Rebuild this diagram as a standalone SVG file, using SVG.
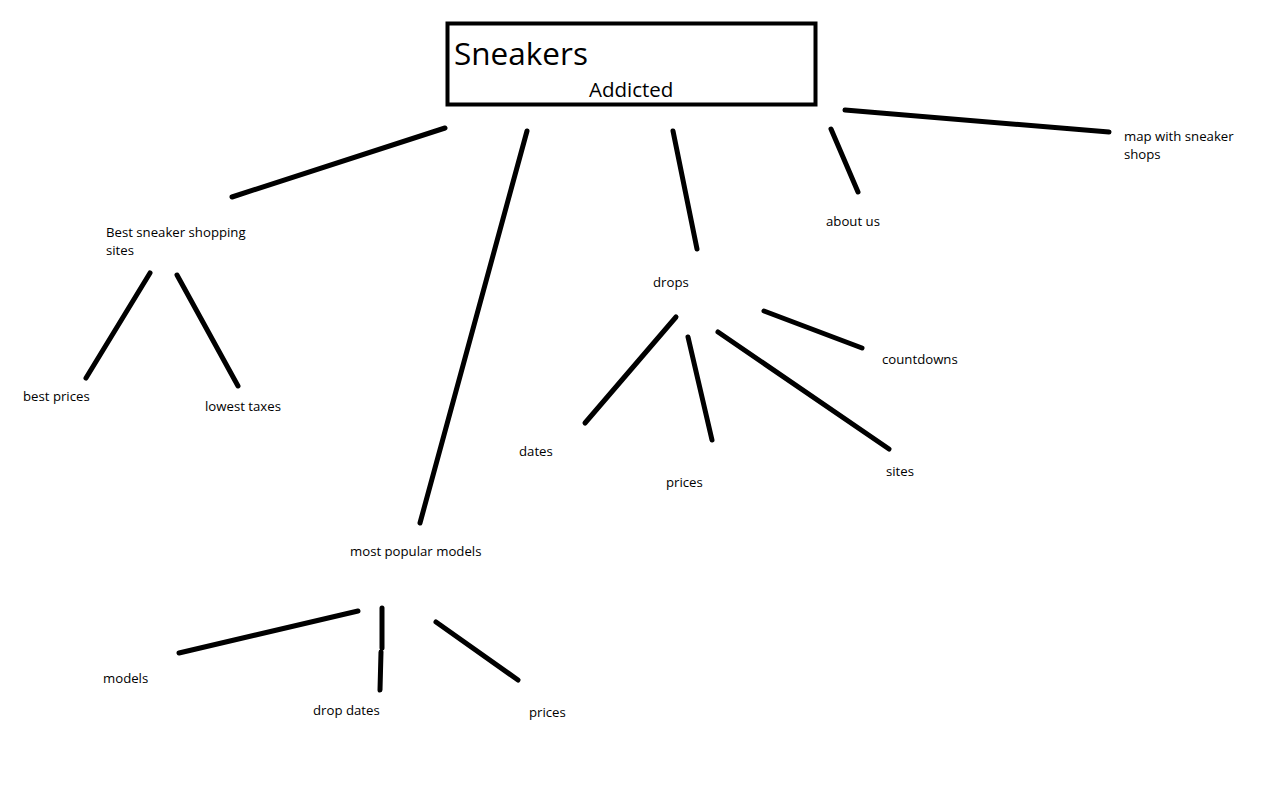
<svg xmlns="http://www.w3.org/2000/svg" width="1266" height="785" viewBox="0 0 1266 785">
<style>
.t{font-family:"Open Sans","DejaVu Sans",sans-serif;font-size:13.2px;fill:#000}
.c line{stroke:#000;stroke-width:5;stroke-linecap:round}
</style>
<rect width="1266" height="785" fill="#fff"/>
<g id="root">
<rect x="447.5" y="23.5" width="368" height="81" fill="#fff" stroke="#000" stroke-width="4"/>
<text x="454" y="65" font-family="Open Sans, DejaVu Sans, sans-serif" font-size="31.5">Sneakers</text>
<text x="589" y="97" font-family="Open Sans, DejaVu Sans, sans-serif" font-size="20.5">Addicted</text>
</g>
<g class="c" id="connectors">
<line x1="445" y1="128" x2="232" y2="197"/>
<line x1="527" y1="131" x2="420" y2="523"/>
<line x1="673" y1="131" x2="697" y2="249"/>
<line x1="831" y1="129" x2="858" y2="192"/>
<line x1="845" y1="110" x2="1109" y2="132"/>
<line x1="150" y1="273" x2="86" y2="378"/>
<line x1="177" y1="275" x2="238" y2="386"/>
<line x1="676" y1="317" x2="585" y2="423"/>
<line x1="688" y1="337" x2="712" y2="440"/>
<line x1="718" y1="332" x2="889" y2="449"/>
<line x1="764" y1="311" x2="862" y2="348"/>
<line x1="358" y1="611" x2="179" y2="653"/>
<line x1="382" y1="608" x2="382" y2="648"/>
<line x1="381" y1="652" x2="380" y2="690"/>
<line x1="436" y1="622" x2="518" y2="680"/>
</g>
<g id="n-best-sites"><text class="t" x="106" y="237">Best sneaker shopping</text><text class="t" x="106" y="255">sites</text></g>
<g id="n-best-prices"><text class="t" x="23" y="401">best prices</text></g>
<g id="n-lowest-taxes"><text class="t" x="205" y="411">lowest taxes</text></g>
<g id="n-drops"><text class="t" x="653" y="287">drops</text></g>
<g id="n-about"><text class="t" x="826" y="226">about us</text></g>
<g id="n-map"><text class="t" x="1124" y="141">map with sneaker</text><text class="t" x="1124" y="159">shops</text></g>
<g id="n-countdowns"><text class="t" x="882" y="364">countdowns</text></g>
<g id="n-dates"><text class="t" x="519" y="456">dates</text></g>
<g id="n-drop-prices"><text class="t" x="666" y="487">prices</text></g>
<g id="n-sites"><text class="t" x="886" y="476">sites</text></g>
<g id="n-popular"><text class="t" x="350" y="556">most popular models</text></g>
<g id="n-models"><text class="t" x="103" y="683">models</text></g>
<g id="n-drop-dates"><text class="t" x="313" y="715">drop dates</text></g>
<g id="n-model-prices"><text class="t" x="529" y="717">prices</text></g>
</svg>
